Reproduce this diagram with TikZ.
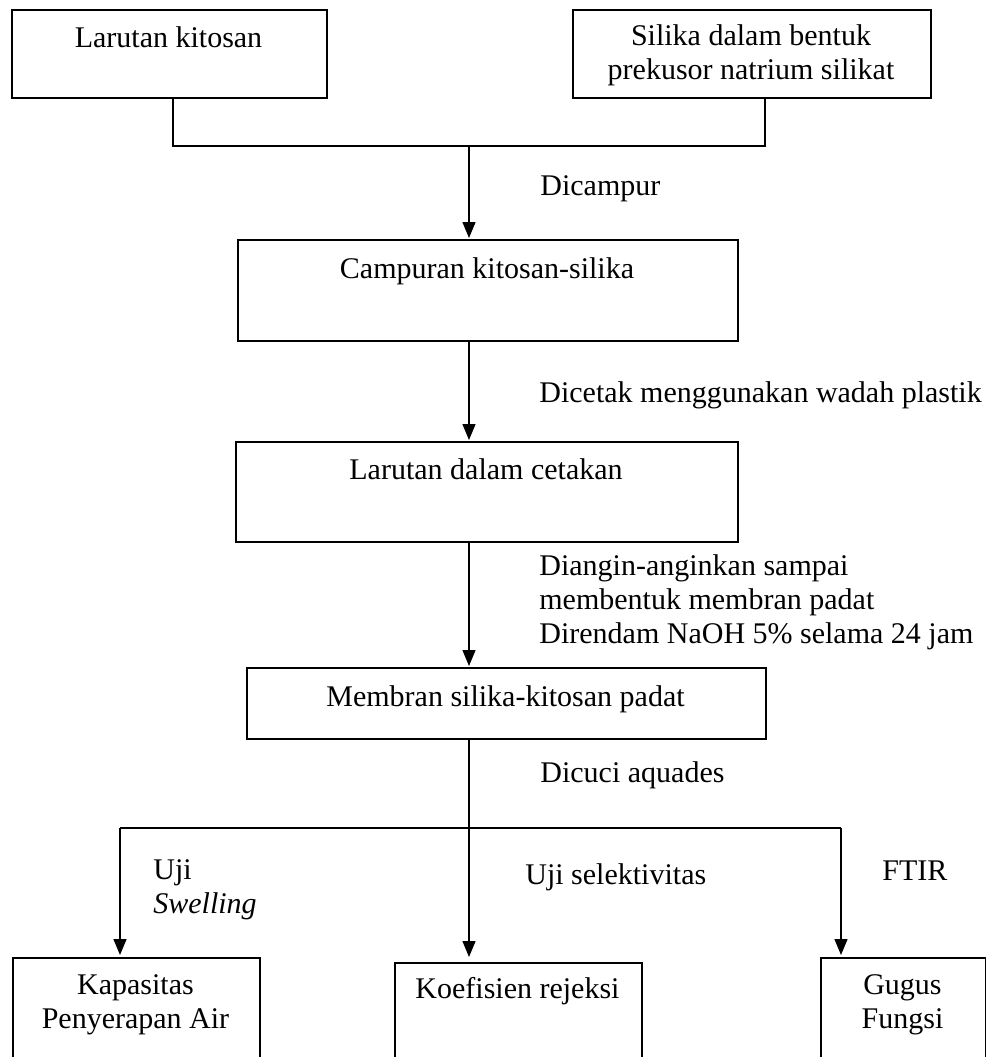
\documentclass[tikz,border=0pt]{standalone}
\usepackage{fontspec}
\setmainfont{Liberation Serif}
\usetikzlibrary{arrows.meta,calc}

\tikzset{
  kotak/.style={draw, line width=0.9pt, inner sep=0pt, anchor=north west},
  teks/.style={inner sep=0pt, anchor=base, align=center},
  ket/.style={inner sep=0pt, anchor=base west, align=left},
  panah/.style={line width=0.7pt, -{Triangle[width=6.5pt,length=8pt]}},
  garis/.style={line width=0.7pt}
}

\begin{document}
\begin{tikzpicture}[x=0.5pt,y=-0.5pt,font=\fontsize{15}{17}\selectfont]
    \clip (0,0) rectangle (986,1057);

    % kotak proses
    \node[kotak, minimum width=157.5pt, minimum height=44pt] (kitosan) at (11,9) {};
    \node[kotak, minimum width=179pt, minimum height=44pt] (silika) at (572,9) {};
    \node[kotak, minimum width=250pt, minimum height=50.5pt] (campur) at (237,239) {};
    \node[kotak, minimum width=251pt, minimum height=50pt] (cetak) at (235,441) {};
    \node[kotak, minimum width=259.5pt, minimum height=35.5pt] (padat) at (246,667) {};
    \node[kotak, minimum width=123.5pt, minimum height=70pt] (kapasitas) at (12,957) {};
    \node[kotak, minimum width=123.5pt, minimum height=70pt] (rejeksi) at (394,962) {};
    \node[kotak, minimum width=82.5pt, minimum height=70pt] (gugus) at (820,957) {};

    % teks di dalam kotak (base = baris terakhir)
    \node[teks] (tkitosan) at (168.5,47) {Larutan kitosan};
    \node[teks] (tsilika) at (751,79) {Silika dalam bentuk\\prekusor natrium silikat};
    \node[teks] (tcampur) at (487,278) {Campuran kitosan-silika};
    \node[teks] (tcetak) at (486,479) {Larutan dalam cetakan};
    \node[teks] (tpadat) at (505.5,706) {Membran silika-kitosan padat};
    \node[teks] (tkapasitas) at (135.5,1028) {Kapasitas\\Penyerapan Air};
    \node[teks] (trejeksi) at (517.5,998) {Koefisien rejeksi};
    \node[teks] (tgugus) at (902.5,1028) {Gugus\\Fungsi};

    % titik cabang
    \coordinate (jl) at (173,146);
    \coordinate (jm) at (469,146);
    \coordinate (jr) at (765,146);
    \coordinate (bl) at (120,828);
    \coordinate (bm) at (469,828);
    \coordinate (br) at (841,828);

    \draw[garis] (kitosan.south -| jl) -- (jl) -- (jr) -- (silika.south -| jr);
    \draw[panah] (jm) -- ($(campur.north -| jm)+(0,-1)$);
    \draw[panah] (campur.south -| jm) -- ($(cetak.north -| jm)+(0,-1)$);
    \draw[panah] (cetak.south -| jm) -- ($(padat.north -| jm)+(0,-1)$);
    \draw[garis] (padat.south -| bm) -- (bm);
    \draw[garis] (bl) -- (br);
    \draw[panah] (bl) -- ($(kapasitas.north -| bl)+(0,-2)$);
    \draw[panah] (bm) -- ($(rejeksi.north -| bm)+(0,-5)$);
    \draw[panah] (br) -- ($(gugus.north -| br)+(0,-2)$);

    % keterangan
    \node[ket] (dicampur) at (540,195) {Dicampur};
    \node[ket] (dicetak) at (539,402) {Dicetak menggunakan wadah plastik};
    \node[ket] (diangin) at (539,643) {Diangin-anginkan sampai\\membentuk membran padat\\Direndam NaOH 5\% selama 24 jam};
    \node[ket] (dicuci) at (540,782) {Dicuci aquades};
    \node[ket] (swelling) at (153,913) {Uji\\\textit{Swelling}};
    \node[ket] (selektif) at (525,884) {Uji selektivitas};
    \node[ket] (ftir) at (882,880) {FTIR};
\end{tikzpicture}
\end{document}
